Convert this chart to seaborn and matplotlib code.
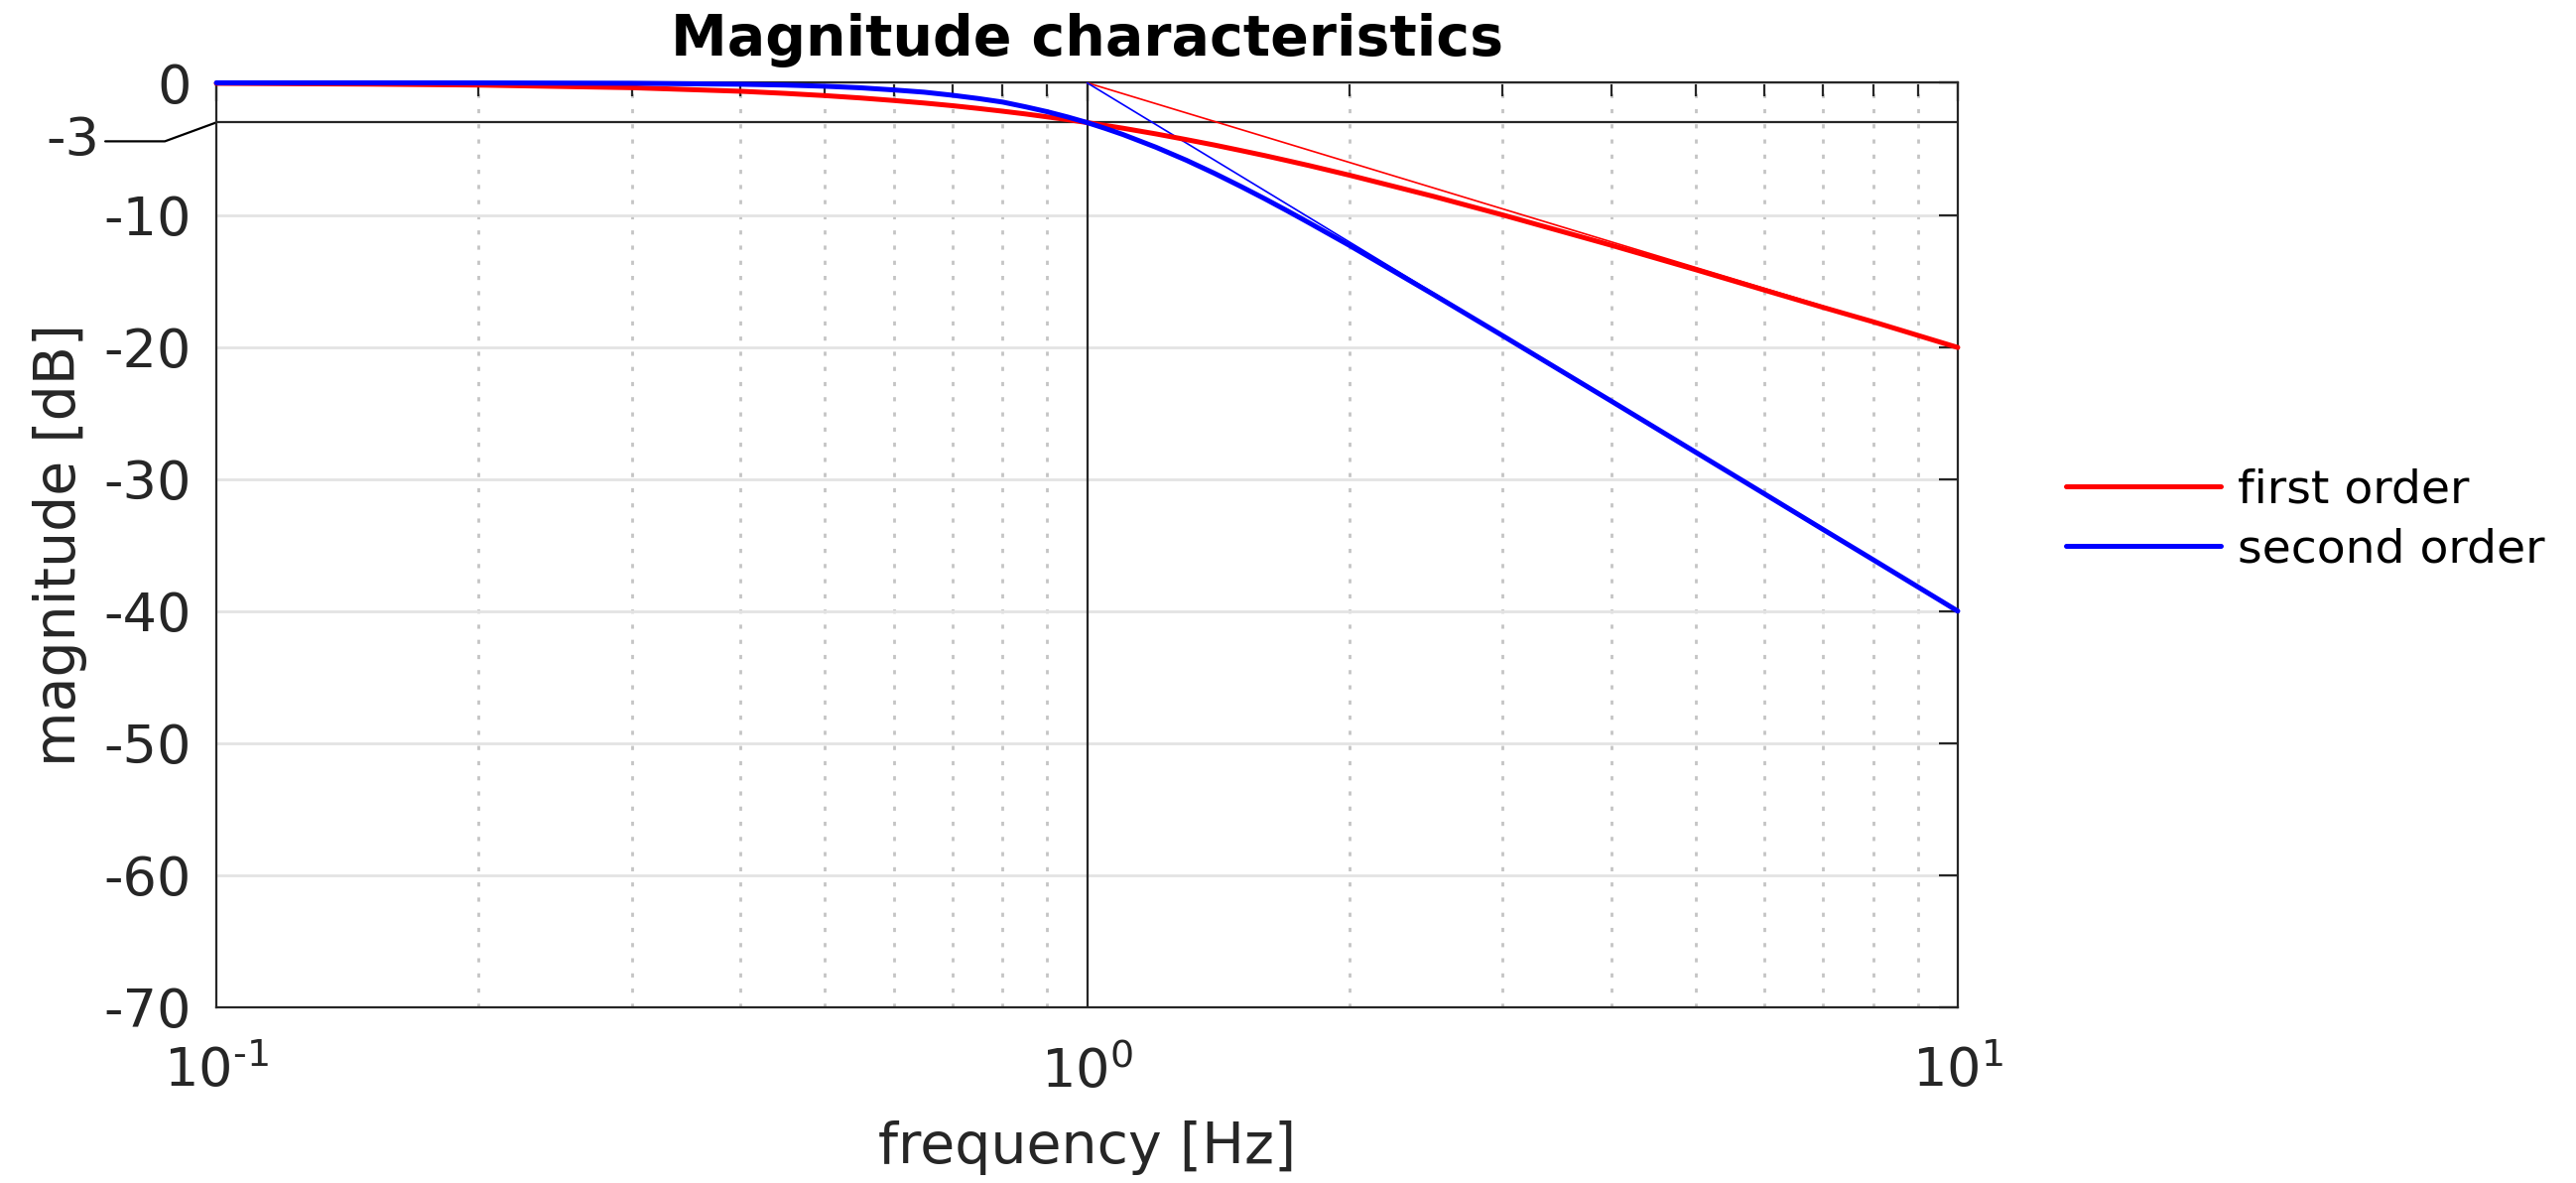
import matplotlib
matplotlib.use("Agg")
import matplotlib.pyplot as plt
import matplotlib.ticker as mticker
import numpy as np
import pandas as pd
import seaborn as sns

# values
freq = [0.1, 0.15, 0.2, 0.3, 0.4, 0.45, 0.5, 0.55, 0.6, 0.65, 0.7, 0.75, 0.8, 0.85,
        0.9, 0.95, 1.0, 1.05, 1.1, 1.2, 1.3, 1.4, 1.5, 1.6, 1.7, 1.8, 2.0, 2.5,
        3.0, 4.0, 5.0, 6.0, 7.0, 8.0, 10.0]
first_order = [-0.04, -0.10, -0.17, -0.37, -0.64, -0.80, -0.97, -1.15, -1.34, -1.53,
               -1.73, -1.94, -2.15, -2.36, -2.58, -2.79, -3.01, -3.23, -3.44, -3.87,
               -4.30, -4.71, -5.12, -5.51, -5.90, -6.27, -6.99, -8.60, -10.0, -12.3,
               -14.15, -15.7, -17.0, -18.1, -20.04]
second_order = [0.0, -0.002, -0.007, -0.035, -0.11, -0.17, -0.26, -0.38, -0.54, -0.71,
                -0.94, -1.19, -1.46, -1.82, -2.19, -2.59, -3.01, -3.46, -3.92, -4.88,
                -5.86, -6.85, -7.83, -8.78, -9.71, -10.61, -12.30, -16.03, -19.14, -24.10,
                -27.97, -31.13, -33.81, -36.12, -40.0]
asym_freq = [1.0, 10.0]
asym_first = [0.0, -20.0]
asym_second = [0.0, -40.0]
y_ticks = [0, -10, -20, -30, -40, -50, -60, -70]
x_ticks = [0.1, 1.0, 10.0]
x_ticklabels = ["$\\mathregular{10^{\u2010 1}}$", "$\\mathregular{10^{0}}$", "$\\mathregular{10^{1}}$"]

df = pd.DataFrame({
    "freq": freq * 2,
    "mag": first_order + second_order,
    "order": ["first order"] * len(freq) + ["second order"] * len(freq),
})

sns.set_style("white")
plt.rcParams["font.family"] = ["DejaVu Sans"]

fig = plt.figure(figsize=(12.98, 5.96), dpi=200)
ax = fig.add_axes([0.084, 0.1485, 0.676, 0.7815])

dark = "#262626"
ax.set_xscale("log")
ax.set_xlim(0.1, 10)
ax.set_ylim(-70, 0)

ax.yaxis.grid(True, color="#e3e3e3", linewidth=1.0)
ax.xaxis.grid(True, which="minor", color="#c4c4c4", linestyle=(0, (1.5, 4)), linewidth=1.0)
ax.set_axisbelow(True)

ax.axhline(-3, color=dark, linewidth=0.8, zorder=2)
ax.axvline(1.0, color=dark, linewidth=0.8, zorder=2)

ax.plot(asym_freq, asym_first, color="#ff0000", linewidth=0.6, zorder=3)
ax.plot(asym_freq, asym_second, color="#0000ff", linewidth=0.6, zorder=3)

sns.lineplot(data=df, x="freq", y="mag", hue="order",
             palette={"first order": "#ff0000", "second order": "#0000ff"},
             linewidth=1.8, ax=ax, zorder=4, clip_on=False)

ax.set_yticks(y_ticks)
ax.set_yticklabels([str(v) for v in y_ticks])
ax.set_xticks(x_ticks)
ax.set_xticklabels(x_ticklabels)
ax.xaxis.set_minor_locator(mticker.LogLocator(base=10, subs=np.arange(2, 10), numticks=10))
ax.xaxis.set_minor_formatter(mticker.NullFormatter())
ax.tick_params(axis="both", which="both", direction="in", top=True, right=True,
               colors=dark, labelsize=19.5, width=0.8)
ax.tick_params(axis="both", which="major", length=7)
ax.tick_params(axis="x", which="minor", length=5)
ax.tick_params(axis="x", which="major", pad=14)
ax.tick_params(axis="y", which="major", pad=9)

for s in ax.spines.values():
    s.set_color(dark)
    s.set_linewidth(0.8)

# -3 annotation with leader line
ax.plot([-0.0638, -0.0296, 0.0], [-4.43, -4.43, -3.0], color="black", linewidth=0.8,
        transform=ax.get_yaxis_transform(), clip_on=False)
ax.text(-0.067, -4.43, "-3", transform=ax.get_yaxis_transform(), ha="right", va="center",
        fontsize=19.5, color=dark)

ax.set_xlabel("frequency [Hz]", fontsize=20.5, color=dark, labelpad=8)
ax.set_ylabel("magnitude [dB]", fontsize=20.5, color=dark, labelpad=6)
ax.set_title("Magnitude characteristics", fontsize=20.5, fontweight="bold", color="black", pad=10)

leg = ax.legend(loc="center left", bbox_to_anchor=(1.038, 0.527), frameon=False,
                fontsize=17, handlelength=3.3, handletextpad=0.35, labelspacing=0.3)
for line in leg.get_lines():
    line.set_linewidth(1.8)
for t in leg.get_texts():
    t.set_color("black")

fig.savefig("out.png", dpi=200)
